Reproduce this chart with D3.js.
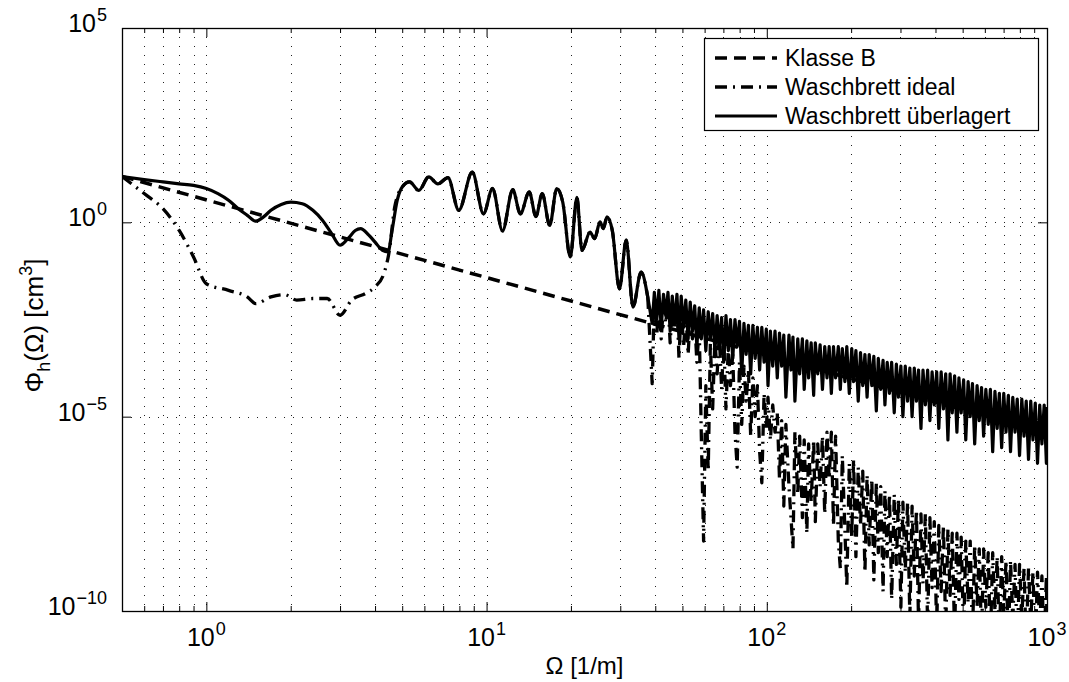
<!DOCTYPE html>
<html>
<head>
<meta charset="utf-8">
<script src="https://cdn.jsdelivr.net/npm/d3@7"></script>
<style>
  body { margin: 0; background: #fff; }
  text { font-family: "Liberation Sans", Arial, Helvetica, sans-serif; fill: #000; }
</style>
</head>
<body>
<script>
const width = 1069;
const height = 682;

// values are [Omega in 1/m, log10 of Phi in cm^3]
const klasseB = [[0.5, 1.18], [1000, -5.42]];

const ueberLow = [[0.5, 1.18], [0.6, 1.10], [0.7, 1.04], [0.8, 0.99], [0.9, 0.95], [1.0, 0.87],
  [1.1, 0.74], [1.2, 0.57], [1.3, 0.35], [1.4, 0.18], [1.5, 0.03], [1.6, 0.14], [1.7, 0.31],
  [1.85, 0.46], [2.0, 0.52], [2.2, 0.48], [2.4, 0.31], [2.6, 0.05], [2.8, -0.29], [3.0, -0.59],
  [3.2, -0.42], [3.4, -0.21], [3.55, -0.16], [3.8, -0.33], [4.0, -0.51], [4.25, -0.72],
  [4.45, -0.76], [4.6, -0.21], [4.8, 0.57]];

const idealLow = [[0.5, 1.18], [0.6, 0.74], [0.7, 0.35], [0.8, -0.21], [0.9, -0.89], [1.0, -1.58],
  [1.2, -1.75], [1.4, -1.92], [1.5, -2.09], [1.7, -1.92], [1.9, -1.86], [2.1, -2.0], [2.4, -1.96],
  [2.7, -1.96], [3.0, -2.39], [3.3, -2.0], [3.7, -1.83], [4.0, -1.66], [4.3, -1.32], [4.5, -0.72],
  [4.7, 0.39]];

// between 5 and 38 both washboard curves lie on top of each other
const sharedMid = [[5.0, 0.91], [5.31, 1.04], [5.73, 0.82], [6.22, 1.17], [6.70, 0.99], [7.28, 1.15],
  [7.96, 0.31], [8.89, 1.29], [9.75, 0.22], [10.5, 0.87], [11.4, -0.22], [12.4, 0.84], [13.2, 0.22],
  [14.2, 0.78], [15.0, 0.15], [15.8, 0.74], [16.8, -0.08], [17.8, 0.87], [18.7, 0.52], [19.9, -0.89],
  [21.0, 0.64], [21.9, -0.72], [23.4, -0.25], [24.3, -0.42], [25.4, 0.01], [26.1, -0.16], [26.9, 0.14],
  [28.1, -0.21], [29.8, -1.71], [31.5, -0.46], [33.3, -2.18], [35.6, -1.28], [37.6, -1.92]];

const noiseOmega = [39.0, 39.7, 40.5, 41.2, 42.0, 42.8, 43.6, 44.4, 45.2, 46.0,
  46.9, 47.8, 48.6, 49.5, 50.5, 51.4, 52.4, 53.3, 54.3, 55.3,
  56.3, 57.4, 58.4, 59.5, 60.6, 61.8, 62.9, 64.1, 65.3, 66.5,
  67.7, 69.0, 70.2, 71.5, 72.9, 74.2, 75.6, 77.0, 78.4, 79.9,
  81.4, 82.9, 84.4, 86.0, 87.6, 89.2, 90.9, 92.6, 94.3, 96.0,
  97.8, 99.6, 101, 103, 105, 107, 109, 111, 113, 115,
  117, 120, 122, 124, 126, 129, 131, 134, 136, 139,
  141, 144, 147, 149, 152, 155, 158, 161, 164, 167,
  170, 173, 176, 180, 183, 186, 190, 193, 197, 201,
  204, 208, 212, 216, 220, 224, 228, 232, 237, 241,
  246, 250, 255, 260, 264, 269, 274, 279, 285, 290,
  295, 301, 306, 312, 318, 324, 330, 336, 342, 348,
  355, 361, 368, 375, 382, 389, 396, 404, 411, 419,
  427, 435, 443, 451, 459, 468, 477, 485, 494, 504,
  513, 523, 532, 542, 552, 563, 573, 584, 594, 605,
  617, 628, 640, 652, 664, 676, 689, 701, 714, 728,
  741, 755, 769, 783, 798, 813, 828, 843, 859, 875,
  891, 908, 925, 942, 959, 977, 995, 1000];

const ueberNoise = [-2.6, -1.8, -2.5, -1.75, -2.7, -1.85, -2.4, -1.8, -2.8, -1.9,
  -2.6, -1.85, -3.0, -1.9, -2.7, -2.0, -3.0, -2.05, -2.8, -2.15,
  -3.2, -2.2, -3.0, -2.25, -3.3, -2.3, -3.0, -2.35, -3.3, -2.4,
  -3.2, -2.45, -3.6, -2.4, -3.3, -2.5, -3.5, -2.5, -3.2, -2.55,
  -3.9, -2.6, -3.4, -2.65, -3.9, -2.65, -3.5, -2.7, -3.8, -2.7,
  -3.6, -2.75, -4.2, -2.8, -3.7, -2.8, -4.0, -2.85, -3.7, -2.9,
  -4.5, -2.9, -3.8, -2.95, -4.6, -3.0, -3.9, -3.0, -4.3, -3.05,
  -4.0, -3.1, -4.45, -3.1, -3.9, -3.15, -4.3, -3.2, -4.0, -3.2,
  -4.4, -3.2, -4.0, -3.2, -4.3, -3.25, -4.1, -3.2, -4.4, -3.25,
  -4.1, -3.3, -4.6, -3.35, -4.2, -3.4, -4.5, -3.4, -4.2, -3.45,
  -4.85, -3.5, -4.3, -3.55, -4.7, -3.6, -4.4, -3.6, -4.9, -3.65,
  -4.5, -3.7, -5.0, -3.7, -4.6, -3.75, -5.0, -3.75, -4.6, -3.8,
  -5.3, -3.8, -4.7, -3.8, -5.1, -3.85, -4.7, -3.85, -5.3, -3.85,
  -4.8, -3.9, -5.6, -3.9, -4.9, -3.95, -5.4, -4.0, -4.9, -4.05,
  -5.6, -4.1, -5.0, -4.15, -5.7, -4.2, -5.1, -4.25, -5.5, -4.3,
  -5.2, -4.3, -5.9, -4.35, -5.3, -4.4, -5.8, -4.4, -5.4, -4.45,
  -5.9, -4.5, -5.4, -4.55, -6.0, -4.55, -5.5, -4.6, -6.1, -4.6,
  -5.6, -4.65, -6.2, -4.7, -5.7, -4.7, -6.2, -4.75];

const idealNoise = [-4.15, -2.0, -2.9, -2.0, -3.0, -2.1, -2.6, -2.0, -3.1, -2.2,
  -2.7, -2.1, -3.5, -2.2, -3.2, -2.3, -3.4, -2.4, -3.0, -2.5,
  -3.6, -2.7, -5.5, -8.2, -4.2, -6.4, -3.1, -4.8, -3.0, -3.9,
  -2.9, -4.3, -3.0, -4.8, -3.2, -4.2, -3.4, -5.4, -6.3, -3.6,
  -5.2, -3.7, -4.6, -3.8, -5.5, -4.0, -5.0, -4.2, -5.9, -6.7,
  -4.4, -5.3, -4.5, -5.6, -4.7, -5.4, -4.9, -6.6, -5.1, -7.3,
  -5.2, -6.8, -7.6, -8.4, -5.4, -7.0, -5.5, -7.6, -5.6, -8.0,
  -5.7, -7.2, -5.6, -7.7, -5.7, -6.8, -5.5, -7.5, -5.4, -6.6,
  -5.4, -7.8, -5.5, -8.2, -8.9, -6.0, -7.9, -9.4, -6.2, -8.1,
  -6.1, -8.6, -6.3, -7.8, -6.4, -9.0, -6.5, -8.3, -6.6, -9.2,
  -6.7, -8.5, -6.8, -9.5, -6.9, -8.6, -7.0, -9.7, -7.0, -8.8,
  -7.1, -9.9, -7.2, -9.0, -7.2, -10.2, -7.3, -9.1, -7.4, -10.3,
  -7.5, -9.3, -7.5, -10.4, -7.6, -9.4, -7.7, -10.5, -7.8, -9.5,
  -7.8, -10.5, -7.9, -9.6, -8.0, -10.6, -8.0, -9.7, -8.1, -10.6,
  -8.2, -9.8, -8.2, -10.7, -8.3, -9.9, -8.4, -10.7, -8.4, -9.9,
  -8.5, -10.8, -8.5, -10.0, -8.6, -10.8, -8.6, -10.1, -8.7, -10.8,
  -8.7, -10.2, -8.8, -10.9, -8.8, -10.2, -8.9, -10.9, -8.9, -10.3,
  -9.0, -10.9, -9.0, -10.4, -9.1, -10.9, -9.1, -10.5];

const xTickExp = [0, 1, 2, 3];
const yTickExp = [5, 0, -5, -10];
const yGridExp = [0, -5];
const legendNames = ["Klasse B", "Waschbrett ideal", "Waschbrett überlagert"];

const pLeft = 122, pRight = 1047, pTop = 28, pBottom = 611;

const x = d3.scaleLog().domain([0.5, 1000]).range([pLeft, pRight]);
const y = d3.scaleLog().domain([1e-10, 1e5]).range([pBottom, pTop]);

const styles = [
	{ dash: "12,7", w: 3.5 },
	{ dash: "12,6,2,6", w: 3.3 },
	{ dash: null, w: 3.2 }
];

const svg = d3.select("body").append("svg")
	.attr("width", width)
	.attr("height", height);

svg.append("defs").append("clipPath").attr("id", "plotclip")
	.append("rect")
	.attr("x", pLeft).attr("y", pTop)
	.attr("width", pRight - pLeft).attr("height", pBottom - pTop);

// dotted grid
const xTicksAll = x.ticks();
const grid = svg.append("g")
	.attr("stroke", "#222")
	.attr("stroke-width", 1)
	.attr("stroke-dasharray", "1,8");

grid.selectAll(".gx")
	.data(xTicksAll.filter(d => d > 0.5 && d < 1000))
	.enter().append("line")
	.attr("x1", d => Math.round(x(d)) + 0.5).attr("x2", d => Math.round(x(d)) + 0.5)
	.attr("y1", pTop).attr("y2", pBottom);

grid.selectAll(".gy")
	.data(yGridExp)
	.enter().append("line")
	.attr("x1", pLeft).attr("x2", pRight)
	.attr("y1", d => Math.round(y(Math.pow(10, d))) + 0.5)
	.attr("y2", d => Math.round(y(Math.pow(10, d))) + 0.5);

// series: smooth part with a curve, dense noisy part as straight segments
const toPts = arr => arr.map(d => [d[0], Math.pow(10, d[1])]);
const noisePts = vals => noiseOmega.map((o, i) => [o, Math.pow(10, vals[i])]);

const midPts = toPts(sharedMid);
const joint = midPts[midPts.length - 1];

const series = [
	{ smooth: toPts(klasseB), noise: null },
	{ smooth: toPts(idealLow).concat(midPts), noise: [joint].concat(noisePts(idealNoise)) },
	{ smooth: toPts(ueberLow).concat(midPts), noise: [joint].concat(noisePts(ueberNoise)) }
];

const smoothLine = d3.line()
	.x(d => x(d[0]))
	.y(d => y(d[1]))
	.curve(d3.curveMonotoneX);

const noiseLine = d3.line()
	.x(d => x(d[0]))
	.y(d => y(d[1]));

const plot = svg.append("g").attr("clip-path", "url(#plotclip)");

series.forEach((s, i) => {
	const parts = [[s.smooth, smoothLine]];
	if (s.noise) parts.push([s.noise, noiseLine]);
	parts.forEach(([pts, gen]) => {
		plot.append("path")
			.datum(pts)
			.attr("d", gen)
			.attr("fill", "none")
			.attr("stroke", "#000")
			.attr("stroke-width", styles[i].w)
			.attr("stroke-linejoin", "round")
			.attr("stroke-dasharray", styles[i].dash);
	});
});

// axes box and ticks (MATLAB style, pointing inward)
const isMajor = d => Math.abs(Math.log10(d) - Math.round(Math.log10(d))) < 1e-9;

svg.append("g")
	.attr("transform", `translate(0,${pBottom})`)
	.call(d3.axisBottom(x).tickValues(xTicksAll).tickFormat("").tickSizeOuter(0)
		.tickSize(-5))
	.call(g => g.select(".domain").remove())
	.call(g => g.selectAll(".tick line").filter(isMajor).attr("y2", -9));

svg.append("g")
	.attr("transform", `translate(0,${pTop})`)
	.call(d3.axisTop(x).tickValues(xTicksAll).tickFormat("").tickSizeOuter(0)
		.tickSize(-5))
	.call(g => g.select(".domain").remove())
	.call(g => g.selectAll(".tick line").filter(isMajor).attr("y2", 9));

const yMajor = yGridExp.map(e => Math.pow(10, e));
svg.append("g")
	.attr("transform", `translate(${pLeft},0)`)
	.call(d3.axisLeft(y).tickValues(yMajor).tickFormat("").tickSize(-9).tickSizeOuter(0))
	.call(g => g.select(".domain").remove());

svg.append("g")
	.attr("transform", `translate(${pRight},0)`)
	.call(d3.axisRight(y).tickValues(yMajor).tickFormat("").tickSize(-9).tickSizeOuter(0))
	.call(g => g.select(".domain").remove());

svg.selectAll(".tick line").attr("stroke", "#000").attr("stroke-width", 1);

svg.append("rect")
	.attr("x", pLeft + 0.5).attr("y", pTop + 0.5)
	.attr("width", pRight - pLeft).attr("height", pBottom - pTop)
	.attr("fill", "none")
	.attr("stroke", "#000")
	.attr("stroke-width", 1.3);

// tick labels with superscripts
const tickFont = 25, supFont = 18;

function powLabel(sel, e) {
	sel.append("tspan").text("10");
	sel.append("tspan")
		.attr("dy", -11)
		.attr("dx", 1)
		.attr("font-size", supFont)
		.text(e < 0 ? "\u2212" + Math.abs(e) : String(e));
}

xTickExp.forEach(e => {
	svg.append("text")
		.attr("x", x(Math.pow(10, e)))
		.attr("y", 646)
		.attr("text-anchor", "middle")
		.attr("font-size", tickFont)
		.call(powLabel, e);
});

yTickExp.forEach(e => {
	svg.append("text")
		.attr("x", 107)
		.attr("y", y(Math.pow(10, e)) + 4)
		.attr("text-anchor", "end")
		.attr("font-size", tickFont)
		.call(powLabel, e);
});

// axis titles
svg.append("text")
	.attr("x", (pLeft + pRight) / 2)
	.attr("y", 674)
	.attr("text-anchor", "middle")
	.attr("font-size", 24)
	.text("\u03A9 [1/m]");

const yt = svg.append("text")
	.attr("transform", `translate(43,${(pTop + pBottom) / 2 + 6}) rotate(-90)`)
	.attr("text-anchor", "middle")
	.attr("font-size", 26);
yt.append("tspan").text("\u03A6");
yt.append("tspan").attr("dy", 7).attr("font-size", 18).text("h");
yt.append("tspan").attr("dy", -7).text("(\u03A9) [cm");
yt.append("tspan").attr("dy", -11).attr("font-size", 18).text("3");
yt.append("tspan").attr("dy", 11).text("]");

// legend
const lg = svg.append("g");
lg.append("rect")
	.attr("x", 704.5).attr("y", 38.5)
	.attr("width", 334).attr("height", 92)
	.attr("fill", "#fff")
	.attr("stroke", "#000")
	.attr("stroke-width", 1.2);

const rowY = [58, 87, 116];
legendNames.forEach((name, i) => {
	lg.append("line")
		.attr("x1", 715).attr("x2", 777)
		.attr("y1", rowY[i]).attr("y2", rowY[i])
		.attr("stroke", "#000")
		.attr("stroke-width", styles[i].w)
		.attr("stroke-dasharray", styles[i].dash);
	lg.append("text")
		.attr("x", 785)
		.attr("y", rowY[i] + 8)
		.attr("font-size", 23)
		.text(name);
});
</script>
</body>
</html>
